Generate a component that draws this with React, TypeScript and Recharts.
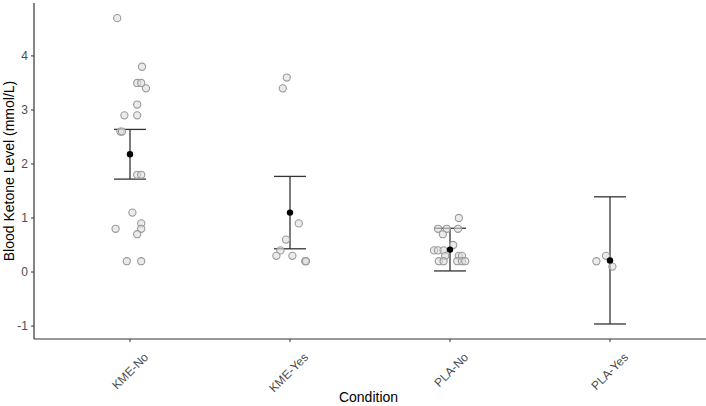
import React from 'react';
import { ScatterChart, Scatter, XAxis, YAxis, ErrorBar } from 'recharts';

const categories = ['KME-No', 'KME-Yes', 'PLA-No', 'PLA-Yes'];
const yTicks = [-1, 0, 1, 2, 3, 4];

// individual readings per condition + the horizontal jitter seen in the plot
const kmeNoValues = [4.7, 3.8, 3.5, 3.5, 3.4, 3.1, 2.9, 2.9, 2.6, 2.6, 1.8, 1.8, 1.1, 0.9, 0.8, 0.8, 0.7, 0.2, 0.2];
const kmeNoJitter = [-0.08, 0.075, 0.045, 0.07, 0.1, 0.045, -0.035, 0.045, -0.06, -0.05, 0.045, 0.07, 0.015, 0.07, -0.09, 0.07, 0.045, -0.02, 0.07];

const kmeYesValues = [3.6, 3.4, 0.9, 0.6, 0.4, 0.3, 0.3, 0.2, 0.2];
const kmeYesJitter = [-0.02, -0.045, 0.055, -0.025, -0.06, -0.085, 0.015, 0.095, 0.1];

const plaNoValues = [1.0, 0.8, 0.8, 0.8, 0.7, 0.5, 0.4, 0.4, 0.4, 0.3, 0.3, 0.3, 0.2, 0.2, 0.2, 0.2, 0.2];
const plaNoJitter = [0.055, -0.075, -0.02, 0.05, -0.045, 0.02, -0.1, -0.075, -0.04, -0.03, 0.055, 0.075, -0.07, -0.04, 0.045, 0.075, 0.095];

const plaYesValues = [0.2, 0.3, 0.1];
const plaYesJitter = [-0.085, -0.025, 0.015];

// group mean and error half-width
const means = [2.18, 1.1, 0.415, 0.215];
const errors = [0.46, 0.67, 0.395, 1.177];

const FONT = 'Liberation Sans, Arial, Helvetica, sans-serif';

const toPoints = (values: number[], jitter: number[], idx: number) =>
  values.map((v, i) => ({ x: idx + 1 + jitter[i], y: v }));

const rawPoints = [
  ...toPoints(kmeNoValues, kmeNoJitter, 0),
  ...toPoints(kmeYesValues, kmeYesJitter, 1),
  ...toPoints(plaNoValues, plaNoJitter, 2),
  ...toPoints(plaYesValues, plaYesJitter, 3),
];

const meanPoints = means.map((m, i) => ({ x: i + 1, y: m, err: errors[i] }));

const OpenDot = (props: any) => (
  <circle cx={props.cx} cy={props.cy} r={3.6} fill="#dedede" fillOpacity={0.6} stroke="#9a9a9a" strokeWidth={1.1} />
);

const MeanDot = (props: any) => <circle cx={props.cx} cy={props.cy} r={3.2} fill="#000" />;

const AngledTick = (props: any) => {
  const { x, payload } = props;
  const label = categories[Math.round(payload.value) - 1] ?? '';
  return (
    <g transform={`translate(${x + 19},358)`}>
      <text transform="rotate(-45)" textAnchor="end" fontSize={12} fill="#4d4d4d" fontFamily={FONT}>
        {label}
      </text>
    </g>
  );
};

export default function App() {
  return (
    <div style={{ position: 'absolute', left: 0, top: 0 }}>
      <ScatterChart width={706} height={406} margin={{ top: 3, right: 0, bottom: 0, left: 0 }}>
        <XAxis
          type="number"
          dataKey="x"
          domain={[0.4, 4.6]}
          ticks={[1, 2, 3, 4]}
          allowDataOverflow
          height={67}
          tickSize={3}
          axisLine={{ stroke: '#333', strokeWidth: 1.2 }}
          tickLine={{ stroke: '#333' }}
          tick={<AngledTick />}
          interval={0}
          label={{
            content: () => (
              <text x={368.5} y={402} textAnchor="middle" fontSize={14} fill="#000" fontFamily={FONT}>
                Condition
              </text>
            ),
          }}
        />
        <YAxis
          type="number"
          dataKey="y"
          domain={[-1.24, 4.98]}
          ticks={yTicks}
          allowDataOverflow
          width={34}
          tickSize={3}
          tickMargin={3}
          axisLine={{ stroke: '#333', strokeWidth: 1.2 }}
          tickLine={{ stroke: '#333' }}
          tick={{ fontSize: 12, fill: '#4d4d4d', fontFamily: FONT }}
          label={{
            content: () => (
              <text
                x={0}
                y={0}
                transform="translate(14,171) rotate(-90)"
                textAnchor="middle"
                fontSize={14}
                fill="#000"
                fontFamily={FONT}
              >
                Blood Ketone Level (mmol/L)
              </text>
            ),
          }}
        />
        <Scatter data={rawPoints} shape={<OpenDot />} isAnimationActive={false} />
        <Scatter data={meanPoints} shape={<MeanDot />} isAnimationActive={false}>
          <ErrorBar dataKey="err" direction="y" width={16} stroke="#333" strokeWidth={1.3} />
        </Scatter>
      </ScatterChart>
    </div>
  );
}
